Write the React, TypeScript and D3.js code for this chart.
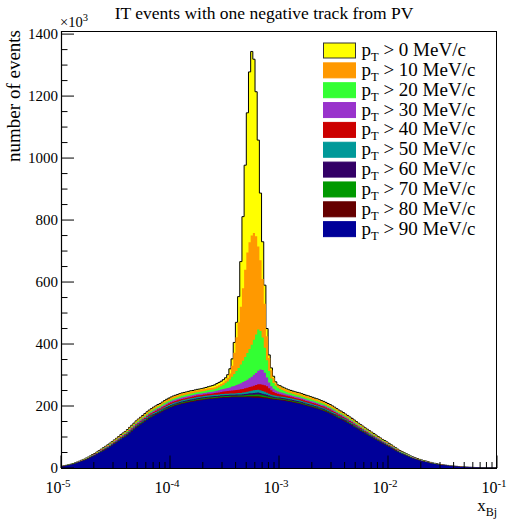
import React from 'react';
import * as d3 from 'd3';

// Histogram: 200 log-spaced bins of x_Bj between 1e-5 and 1e-1.
// Counts in units of 10^3 events, split in pT slices (MeV/c).
const xRangeLog = [-5, -1];

const countsPt0to10 = [
  0.1,0.1,0.1,0.1,0.1,0.2,0.2,0.2,0.2,0.3,
  0.3,0.4,0.4,0.4,0.5,0.5,0.6,0.6,0.7,0.7,
  0.8,0.8,0.9,0.9,1.0,1.1,1.1,1.2,1.3,1.3,
  1.4,1.5,1.5,1.6,1.7,1.8,1.8,1.9,2.0,2.0,
  2.1,2.1,2.2,2.2,2.3,2.3,2.4,2.4,2.5,2.5,
  2.5,2.6,2.6,2.6,2.7,2.7,2.7,2.7,2.7,2.8,
  2.8,2.8,2.8,2.8,3,3.5,4,5,6,7,
  8,8.5,9,9,9,9,10,15,22,33,
  48,83,146,231,337,451,550,594,561,466,
  343,217,120,60,25,10,8,6,5,3,
  3.5,3.2,3,2.9,2.8,2.8,2.8,2.7,2.7,2.7,
  2.7,2.6,2.6,2.6,2.6,2.5,2.5,2.5,2.5,2.4,
  2.4,2.4,2.3,2.3,2.2,2.2,2.1,2.1,2.0,2.0,
  1.9,1.9,1.8,1.8,1.7,1.7,1.6,1.6,1.5,1.4,
  1.4,1.3,1.3,1.2,1.2,1.1,1.1,1.0,1.0,0.9,
  0.9,0.8,0.8,0.7,0.7,0.6,0.6,0.5,0.5,0.5,
  0.4,0.4,0.4,0.3,0.3,0.3,0.3,0.2,0.2,0.2,
  0.2,0.2,0.1,0.1,0.1,0.1,0.1,0.1,0.1,0.1,
  0.1,0.1,0.1,0,0,0,0,0,0,0,
  0,0,0,0,0,0,0,0,0,0,
];

const countsPt10to20 = [
  0.2,0.2,0.2,0.3,0.3,0.4,0.4,0.5,0.6,0.6,
  0.7,0.8,0.9,1.0,1.1,1.2,1.3,1.4,1.6,1.7,
  1.8,1.9,2.1,2.2,2.3,2.5,2.6,2.8,2.9,3.0,
  3.2,3.4,3.5,3.7,3.9,4.1,4.2,4.4,4.5,4.7,
  4.8,4.9,5.0,5.1,5.3,5.3,5.5,5.6,5.7,5.8,
  5.9,6.0,6.0,6.1,6.2,6.2,6.3,6.3,6.3,6.4,
  6.4,6.5,6.5,6.5,6.6,6.6,6.6,6.6,6.6,6.6,
  6.5,7,7,7,8,9,12,19,36,69,
  109,147,186,234,282,324,344,352,344,317,
  268,228,189,142,77,42,26,16,8,6,
  7,7,7,6.8,6.6,6.5,6.4,6.3,6.3,6.2,
  6.2,6.1,6.0,6.0,5.9,5.9,5.8,5.7,5.7,5.6,
  5.5,5.4,5.3,5.3,5.1,5.0,4.9,4.8,4.7,4.6,
  4.5,4.4,4.2,4.1,4.0,3.8,3.7,3.6,3.5,3.3,
  3.2,3.1,3.0,2.9,2.7,2.6,2.5,2.4,2.3,2.2,
  2.0,1.9,1.8,1.7,1.6,1.4,1.4,1.3,1.2,1.1,
  1.0,0.9,0.8,0.8,0.7,0.7,0.6,0.6,0.5,0.5,
  0.4,0.4,0.3,0.3,0.3,0.3,0.2,0.2,0.2,0.2,
  0.2,0.1,0.1,0.1,0.1,0.1,0.1,0.1,0.1,0.1,
  0,0,0,0,0,0,0,0,0,0,
];

const countsPt20to30 = [
  0.1,0.2,0.2,0.2,0.3,0.3,0.4,0.4,0.5,0.6,
  0.6,0.7,0.8,0.9,1.0,1.1,1.2,1.3,1.4,1.5,
  1.6,1.7,1.8,2.0,2.1,2.2,2.3,2.5,2.6,2.7,
  2.9,3.0,3.2,3.3,3.5,3.6,3.8,3.9,4.0,4.2,
  4.3,4.4,4.5,4.6,4.7,4.8,4.9,5.0,5.1,5.2,
  5.3,5.4,5.4,5.5,5.5,5.6,5.6,5.7,5.7,5.8,
  5.8,5.8,5.9,5.9,5.9,5.9,6.0,6.0,6.1,6.1,
  6.2,7.7,9.1,11.1,13.5,16.7,21.2,26,31.5,38.5,
  45.4,52.4,60.2,68.7,76.9,85.9,94.1,103.3,113.5,124.1,
  133.4,124.3,105,80.7,56.1,36.9,25.3,18.6,15.2,12.2,
  10.5,9,8,7.3,6.8,6.4,6.1,5.9,5.8,5.7,
  5.5,5.5,5.4,5.4,5.3,5.3,5.2,5.2,5.1,5.0,
  5.0,4.9,4.8,4.7,4.6,4.5,4.4,4.3,4.2,4.1,
  4.0,3.9,3.8,3.7,3.6,3.5,3.3,3.2,3.1,3.0,
  2.9,2.8,2.7,2.6,2.5,2.3,2.2,2.1,2.0,1.9,
  1.8,1.7,1.6,1.5,1.4,1.3,1.2,1.1,1.1,1.0,
  0.9,0.8,0.8,0.7,0.6,0.6,0.6,0.5,0.5,0.4,
  0.4,0.3,0.3,0.3,0.3,0.2,0.2,0.2,0.2,0.2,
  0.1,0.1,0.1,0.1,0.1,0.1,0.1,0.1,0.1,0,
  0,0,0,0,0,0,0,0,0,0,
];

const countsPt30to40 = [
  0.1,0.1,0.2,0.2,0.2,0.3,0.3,0.4,0.4,0.5,
  0.5,0.6,0.7,0.7,0.8,0.9,1.0,1.1,1.1,1.2,
  1.3,1.4,1.5,1.6,1.7,1.8,1.9,2.0,2.1,2.2,
  2.3,2.5,2.6,2.7,2.9,3.0,3.1,3.2,3.3,3.4,
  3.5,3.6,3.7,3.8,3.9,3.9,4.0,4.1,4.2,4.2,
  4.3,4.4,4.4,4.5,4.5,4.6,4.6,4.6,4.7,4.7,
  4.7,4.7,4.8,4.8,4.8,4.9,5.0,5.2,5.4,5.7,
  6.0,6.5,7.0,7.5,8.0,8.8,9.8,11,12.5,14,
  16,18,20,22,24,26,28.5,31.5,35,39,
  43.5,47.5,47,40,28,18.5,13,10,8,7,
  6.3,5.8,5.4,5.1,4.9,4.8,4.7,4.6,4.6,4.6,
  4.5,4.5,4.4,4.4,4.3,4.3,4.2,4.2,4.1,4.1,
  4.0,4.0,3.9,3.8,3.8,3.7,3.6,3.5,3.5,3.4,
  3.3,3.2,3.1,3.0,2.9,2.8,2.7,2.6,2.5,2.4,
  2.4,2.3,2.2,2.1,2.0,1.9,1.8,1.7,1.7,1.6,
  1.5,1.4,1.3,1.2,1.1,1.1,1.0,0.9,0.9,0.8,
  0.7,0.7,0.6,0.6,0.5,0.5,0.5,0.4,0.4,0.3,
  0.3,0.3,0.3,0.2,0.2,0.2,0.2,0.2,0.1,0.1,
  0.1,0.1,0.1,0.1,0.1,0.1,0.1,0,0,0,
  0,0,0,0,0,0,0,0,0,0,
];

const countsPt40to50 = [
  0.1,0.1,0.2,0.2,0.2,0.3,0.3,0.4,0.4,0.5,
  0.5,0.6,0.7,0.7,0.8,0.9,1.0,1.1,1.1,1.2,
  1.3,1.4,1.5,1.6,1.7,1.8,1.9,2.0,2.1,2.2,
  2.3,2.5,2.6,2.7,2.9,3.0,3.1,3.2,3.3,3.4,
  3.5,3.6,3.7,3.8,3.9,3.9,4.0,4.1,4.2,4.2,
  4.3,4.4,4.4,4.5,4.5,4.6,4.6,4.6,4.7,4.7,
  4.7,4.7,4.8,4.8,4.8,4.9,5.0,5.1,5.2,5.3,
  5.5,6,6.5,7,7.5,8,8.5,9,9.5,10,
  10.5,11,11.5,12,12.5,13,13.5,14,15,16,
  17.5,19,20.5,21.5,21,18,14,11,9,8,
  7.2,6.6,6.1,5.7,5.4,5.1,4.9,4.7,4.6,4.6,
  4.5,4.5,4.4,4.4,4.3,4.3,4.2,4.2,4.1,4.1,
  4.0,4.0,3.9,3.8,3.8,3.7,3.6,3.5,3.5,3.4,
  3.3,3.2,3.1,3.0,2.9,2.8,2.7,2.6,2.5,2.4,
  2.4,2.3,2.2,2.1,2.0,1.9,1.8,1.7,1.7,1.6,
  1.5,1.4,1.3,1.2,1.1,1.1,1.0,0.9,0.9,0.8,
  0.7,0.7,0.6,0.6,0.5,0.5,0.5,0.4,0.4,0.3,
  0.3,0.3,0.3,0.2,0.2,0.2,0.2,0.2,0.1,0.1,
  0.1,0.1,0.1,0.1,0.1,0.1,0.1,0,0,0,
  0,0,0,0,0,0,0,0,0,0,
];

const countsPt50to60 = [
  0.1,0.1,0.1,0.2,0.2,0.2,0.3,0.3,0.3,0.4,
  0.4,0.5,0.5,0.6,0.7,0.7,0.8,0.9,0.9,1.0,
  1.1,1.2,1.2,1.3,1.4,1.5,1.6,1.7,1.7,1.8,
  1.9,2.0,2.1,2.2,2.3,2.4,2.5,2.6,2.7,2.8,
  2.9,3.0,3.0,3.1,3.2,3.2,3.3,3.3,3.4,3.5,
  3.5,3.6,3.6,3.7,3.7,3.7,3.8,3.8,3.8,3.8,
  3.9,3.9,3.9,3.9,3.9,4.0,4.0,4.0,4.0,4.0,
  4.0,4.0,4.1,4.1,4.1,4.1,4.1,4.1,4.1,4.1,
  4.3,4.5,4.8,5.2,5.7,6.3,7.0,7.7,8.4,9.0,
  9.3,9.2,8.6,7.8,6.8,5.8,5.0,4.5,4.2,4.0,
  3.9,3.9,3.9,3.9,3.9,3.8,3.8,3.8,3.8,3.7,
  3.7,3.7,3.6,3.6,3.5,3.5,3.5,3.4,3.4,3.3,
  3.3,3.3,3.2,3.2,3.1,3.0,3.0,2.9,2.8,2.8,
  2.7,2.6,2.5,2.5,2.4,2.3,2.2,2.2,2.1,2.0,
  1.9,1.9,1.8,1.7,1.6,1.6,1.5,1.4,1.4,1.3,
  1.2,1.2,1.1,1.0,0.9,0.9,0.8,0.8,0.7,0.6,
  0.6,0.5,0.5,0.5,0.4,0.4,0.4,0.3,0.3,0.3,
  0.3,0.2,0.2,0.2,0.2,0.2,0.1,0.1,0.1,0.1,
  0.1,0.1,0.1,0.1,0.1,0.1,0,0,0,0,
  0,0,0,0,0,0,0,0,0,0,
];

const countsPt60to70 = [
  0.1,0.1,0.1,0.1,0.1,0.2,0.2,0.2,0.3,0.3,
  0.3,0.4,0.4,0.5,0.5,0.6,0.6,0.7,0.7,0.8,
  0.8,0.9,1.0,1.0,1.1,1.1,1.2,1.3,1.4,1.4,
  1.5,1.6,1.7,1.7,1.8,1.9,2.0,2.0,2.1,2.2,
  2.2,2.3,2.4,2.4,2.5,2.5,2.5,2.6,2.7,2.7,
  2.7,2.8,2.8,2.8,2.9,2.9,2.9,2.9,3.0,3.0,
  3.0,3.0,3.0,3.1,3.1,3.1,3.1,3.1,3.1,3.1,
  3.1,3.1,3.2,3.2,3.2,3.2,3.2,3.2,3.2,3.2,
  3.3,3.4,3.6,3.8,4.1,4.4,4.8,5.2,5.6,5.9,
  6.0,5.9,5.5,5.0,4.5,4.0,3.6,3.3,3.2,3.1,
  3.1,3.1,3.0,3.0,3.0,3.0,3.0,2.9,2.9,2.9,
  2.9,2.8,2.8,2.8,2.8,2.7,2.7,2.7,2.6,2.6,
  2.6,2.5,2.5,2.5,2.4,2.4,2.3,2.2,2.2,2.1,
  2.1,2.0,2.0,1.9,1.9,1.8,1.7,1.7,1.6,1.6,
  1.5,1.4,1.4,1.3,1.3,1.2,1.2,1.1,1.1,1.0,
  1.0,0.9,0.8,0.8,0.7,0.7,0.6,0.6,0.5,0.5,
  0.5,0.4,0.4,0.4,0.3,0.3,0.3,0.3,0.2,0.2,
  0.2,0.2,0.2,0.1,0.1,0.1,0.1,0.1,0.1,0.1,
  0.1,0.1,0.1,0,0,0,0,0,0,0,
  0,0,0,0,0,0,0,0,0,0,
];

const countsPt70to80 = [
  0.1,0.1,0.1,0.1,0.1,0.2,0.2,0.2,0.2,0.3,
  0.3,0.4,0.4,0.4,0.5,0.5,0.6,0.6,0.7,0.7,
  0.8,0.8,0.9,0.9,1.0,1.1,1.1,1.2,1.3,1.3,
  1.4,1.5,1.5,1.6,1.7,1.8,1.8,1.9,2.0,2.0,
  2.1,2.1,2.2,2.2,2.3,2.3,2.4,2.4,2.5,2.5,
  2.5,2.6,2.6,2.6,2.7,2.7,2.7,2.7,2.7,2.8,
  2.8,2.8,2.8,2.8,2.8,2.9,2.9,2.9,2.9,2.9,
  2.9,2.9,2.9,2.9,2.9,3.0,3.0,3.0,3.0,3.0,
  3.1,3.2,3.3,3.5,3.8,4.1,4.5,4.9,5.3,5.6,
  5.8,5.7,5.3,4.8,4.3,3.8,3.4,3.1,3.0,2.9,
  2.8,2.8,2.8,2.8,2.8,2.8,2.7,2.7,2.7,2.7,
  2.7,2.6,2.6,2.6,2.6,2.5,2.5,2.5,2.5,2.4,
  2.4,2.4,2.3,2.3,2.2,2.2,2.1,2.1,2.0,2.0,
  1.9,1.9,1.8,1.8,1.7,1.7,1.6,1.6,1.5,1.4,
  1.4,1.3,1.3,1.2,1.2,1.1,1.1,1.0,1.0,0.9,
  0.9,0.8,0.8,0.7,0.7,0.6,0.6,0.5,0.5,0.5,
  0.4,0.4,0.4,0.3,0.3,0.3,0.3,0.2,0.2,0.2,
  0.2,0.2,0.1,0.1,0.1,0.1,0.1,0.1,0.1,0.1,
  0.1,0.1,0.1,0,0,0,0,0,0,0,
  0,0,0,0,0,0,0,0,0,0,
];

const countsPt80to90 = [
  0.1,0.1,0.1,0.1,0.1,0.1,0.1,0.2,0.2,0.2,
  0.2,0.3,0.3,0.3,0.4,0.4,0.4,0.5,0.5,0.6,
  0.6,0.6,0.7,0.7,0.8,0.8,0.9,0.9,1.0,1.0,
  1.1,1.1,1.2,1.2,1.3,1.4,1.4,1.5,1.5,1.6,
  1.6,1.6,1.7,1.7,1.8,1.8,1.8,1.9,1.9,1.9,
  2.0,2.0,2.0,2.0,2.1,2.1,2.1,2.1,2.1,2.1,
  2.1,2.2,2.2,2.2,2.2,2.2,2.2,2.2,2.2,2.2,
  2.2,2.2,2.3,2.3,2.3,2.3,2.3,2.3,2.3,2.3,
  2.4,2.5,2.6,2.8,3.0,3.3,3.6,3.9,4.2,4.4,
  4.5,4.4,4.1,3.7,3.3,3.0,2.7,2.5,2.4,2.3,
  2.2,2.2,2.2,2.2,2.1,2.1,2.1,2.1,2.1,2.1,
  2.1,2.0,2.0,2.0,2.0,2.0,1.9,1.9,1.9,1.9,
  1.8,1.8,1.8,1.8,1.7,1.7,1.6,1.6,1.6,1.5,
  1.5,1.5,1.4,1.4,1.3,1.3,1.2,1.2,1.2,1.1,
  1.1,1.0,1.0,1.0,0.9,0.9,0.8,0.8,0.8,0.7,
  0.7,0.6,0.6,0.6,0.5,0.5,0.5,0.4,0.4,0.4,
  0.3,0.3,0.3,0.3,0.2,0.2,0.2,0.2,0.2,0.2,
  0.1,0.1,0.1,0.1,0.1,0.1,0.1,0.1,0.1,0.1,
  0.1,0.1,0,0,0,0,0,0,0,0,
  0,0,0,0,0,0,0,0,0,0,
];

const countsPtAbove90 = [
  5,6,7.5,9,10.5,12,14,16.5,19,21.5,
  24,27,30,33.5,37,40,44,48,52,56,
  60,64,68.5,73,77.5,82,87,92,96.5,101,
  106,112,118,124,130,135,140,145,150,155,
  160,164,168,171.5,175,178,182,186,189.5,193,
  196,198.5,201,203,205,207,208.5,210,211.5,213,
  214,215.5,217,218,219,220,221,222,222.5,223,
  224,224.5,225,226,226.5,227,227,227.5,228,228,
  228,228,228,228,228,228,228,227.5,227,227,
  227,226,225,224.5,224,223,222,221,220,219.5,
  219,218,217,215.5,214,213,211.5,210,208.5,207,
  205,203,201,199,197,195,193,191,188.5,186,
  184,181,178,175,171.5,168,164,160,157,153,
  149,145,141,137,132.5,128,124,119.5,115.5,111,
  107,103,99,95,91,87,83,79,75.5,72,
  68,64,60,56,52,48,45,42,39,36,
  33,30.5,28,26,24,22,20.5,19,17,15.5,
  14,12.8,11.5,10.5,9.5,8.5,7.8,7,6.3,5.6,
  5,4.5,4,3.5,3.1,2.8,2.5,2.2,2,1.7,
  1.5,1.3,1.1,1,0.9,0.7,0.6,0.5,0.45,0.4,
];

const ptCuts = [0, 10, 20, 30, 40, 50, 60, 70, 80, 90];
const seriesColors = ['#ffff00', '#ff9900', '#33ff33', '#9933cc', '#cc0000', '#009999', '#330066', '#009900', '#660000', '#000099'];
const yTickValues = [0, 200, 400, 600, 800, 1000, 1200, 1400];
const xDecades = [-5, -4, -3, -2, -1];
const titleText = 'IT events with one negative track from PV';

const FONT = "'Liberation Serif', 'Times New Roman', Times, serif";

export default function App() {
  const left = 61, right = 497, top = 31, bottom = 468;
  const x = d3.scaleLog().domain([Math.pow(10, xRangeLog[0]), Math.pow(10, xRangeLog[1])]).range([left, right]);
  const y = d3.scaleLinear().domain([0, 1410]).range([bottom, top]);

  const slices = [countsPt0to10, countsPt10to20, countsPt20to30, countsPt30to40, countsPt40to50,
    countsPt50to60, countsPt60to70, countsPt70to80, countsPt80to90, countsPtAbove90];
  const nBins = countsPtAbove90.length;
  const edges = d3.range(nBins + 1).map(i => Math.pow(10, xRangeLog[0] + ((xRangeLog[1] - xRangeLog[0]) * i) / nBins));
  // series i = events with pT above ptCuts[i] = sum of slices from i upward
  const series = slices.map((_, i) => d3.range(nBins).map(k => d3.sum(slices.slice(i), s => s[k])));

  const stepPoints = (vals: number[]) => {
    const pts: [number, number][] = [[edges[0], 0]];
    vals.forEach((v, k) => { pts.push([edges[k], v]); pts.push([edges[k + 1], v]); });
    pts.push([edges[nBins], 0]);
    return pts;
  };
  const line = d3.line<[number, number]>().x(d => x(d[0])).y(d => y(d[1]));

  const yMinor = d3.range(0, 1410, 50).filter(v => v % 200 !== 0);
  const xMinor: number[] = [];
  xDecades.slice(0, -1).forEach(d => { for (let m = 2; m <= 9; m++) xMinor.push(m * Math.pow(10, d)); });

  const legendRowY = (i: number) => 50.5 + i * 19.85;

  return (
    <svg width={508} height={523} style={{ position: 'absolute', left: 0, top: 0, background: '#fff' }} fontFamily={FONT}>
      <rect x={0} y={0} width={508} height={523} fill="#fff" />
      <defs>
        <clipPath id="frameClip"><rect x={left} y={top} width={right - left} height={bottom - top} /></clipPath>
      </defs>
      <g clipPath="url(#frameClip)">
        {series.map((vals, i) => (
          <path key={i} d={line(stepPoints(vals)) + 'Z'} fill={seriesColors[i]}
            stroke={i === 0 ? '#000' : 'none'} strokeWidth={1} />
        ))}
      </g>
      <rect x={left + 0.5} y={top + 0.5} width={right - left - 1} height={bottom - top} fill="none" stroke="#000" strokeWidth={1} />
      {/* y axis */}
      <line x1={left + 0.5} x2={left + 0.5} y1={top} y2={bottom} stroke="#000" strokeWidth={1.2} />
      {yTickValues.map(v => (
        <g key={'yt' + v}>
          <line x1={left} x2={left + 13} y1={y(v)} y2={y(v)} stroke="#000" strokeWidth={1} />
          <text x={58} y={y(v) + 5} textAnchor="end" fontSize={15}>{v}</text>
        </g>
      ))}
      {yMinor.map(v => (
        <line key={'ym' + v} x1={left} x2={left + 6.5} y1={y(v)} y2={y(v)} stroke="#000" strokeWidth={1} />
      ))}
      <text x={60} y={27} fontSize={14.5}>×10<tspan dy={-6} fontSize={10.5}>3</tspan></text>
      <text transform={`translate(19.5, ${top - 1}) rotate(-90)`} textAnchor="end" fontSize={19}>number of events</text>
      {/* x axis */}
      <line x1={left} x2={right} y1={bottom + 0.5} y2={bottom + 0.5} stroke="#000" strokeWidth={1.2} />
      {xDecades.map(d => {
        const px = x(Math.pow(10, d));
        return (
          <g key={'xt' + d}>
            <line x1={px} x2={px} y1={bottom} y2={bottom - 12.5} stroke="#000" strokeWidth={1} />
            <text x={px - 3} y={493} textAnchor="middle" fontSize={16}>10<tspan dy={-6.5} fontSize={11}>{d}</tspan></text>
          </g>
        );
      })}
      {xMinor.map((v, i) => (
        <line key={'xm' + i} x1={x(v)} x2={x(v)} y1={bottom} y2={bottom - 6} stroke="#000" strokeWidth={1} />
      ))}
      <text x={497} y={511} textAnchor="end" fontSize={17}>x<tspan dy={5} fontSize={12}>Bj</tspan></text>
      {/* title */}
      <text x={264} y={19} textAnchor="middle" fontSize={17.5}>{titleText}</text>
      {/* legend */}
      {ptCuts.map((c, i) => {
        const cy = legendRowY(i);
        return (
          <g key={'lg' + c}>
            <rect x={323.5} y={cy - 7.5} width={32} height={15} fill={seriesColors[i]}
              stroke={i === 0 ? '#333' : seriesColors[i]} strokeWidth={1} />
            <text x={361.5} y={cy + 5.5} fontSize={19}>p<tspan dy={5} fontSize={12.5}>T</tspan><tspan dy={-5}>{` > ${c} MeV/c`}</tspan></text>
          </g>
        );
      })}
    </svg>
  );
}
